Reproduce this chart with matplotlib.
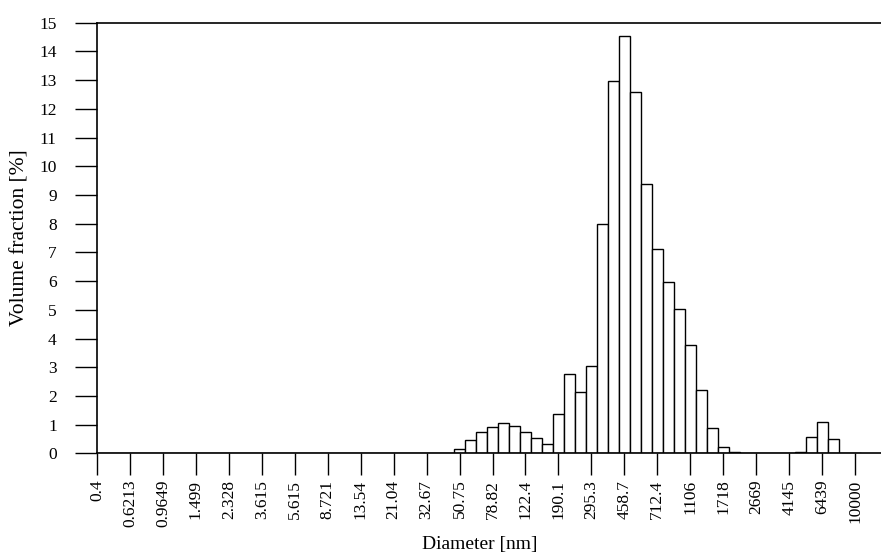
import matplotlib
matplotlib.use("Agg")
import matplotlib.pyplot as plt
import numpy as np

# bin labels shown on the axis (every 3rd bin, log spaced 0.4 .. 10000 nm)
tick_labels = ["0.4", "0.6213", "0.9649", "1.499", "2.328", "3.615", "5.615",
               "8.721", "13.54", "21.04", "32.67", "50.75", "78.82", "122.4",
               "190.1", "295.3", "458.7", "712.4", "1106", "1718", "2669",
               "4145", "6439", "10000"]

# volume fraction [%] per bin, 70 bins (bin 0 = 0.4 nm, bin 69 = 10000 nm)
volume = [0.0] * 33 + [
    0.16, 0.48, 0.74, 0.92, 1.05, 0.97, 0.74, 0.52, 0.33,   # 33-41
    1.36, 2.77, 2.14, 3.03, 7.99, 12.98, 14.55, 12.6, 9.38,  # 42-50
    7.12, 5.96, 5.03, 3.76, 2.19, 0.87, 0.21, 0.04,          # 51-58
    0.0, 0.0, 0.0, 0.0, 0.0, 0.03, 0.57, 1.08, 0.51,         # 59-67
    0.0, 0.0]                                                 # 68-69

plt.rcParams['font.family'] = ['Liberation Serif', 'DejaVu Serif']

fig = plt.figure(figsize=(8.81, 5.59), dpi=100)
ax = fig.add_axes([97/881, 0.189, 1 - 97/881, 0.9594 - 0.189])

x = np.arange(len(volume))
ax.bar(x, volume, width=1.0, color='white', edgecolor='black', linewidth=1.0)

ax.set_xlim(0, 71.36)
ax.set_ylim(0, 15)
ax.set_yticks(range(0, 16))
ax.set_xticks(np.arange(0, len(volume), 3))
ax.set_xticklabels(tick_labels, rotation=90, va='top', ha='center')

ax.spines['right'].set_visible(False)
for s in ['left', 'bottom', 'top']:
    ax.spines[s].set_linewidth(1.2)
ax.tick_params(axis='both', direction='out', length=16, width=1.0,
               labelsize=12.5)
ax.tick_params(axis='x', pad=3)
ax.tick_params(axis='y', pad=13)

ax.set_xlabel("Diameter [nm]", fontsize=14)
ax.set_ylabel("Volume fraction [%]", fontsize=15.5)
ax.xaxis.set_label_coords((480 - 97) / 784, -0.191)
ax.yaxis.set_label_coords(-0.0855, 0.5)

fig.savefig("out.png", dpi=100)
